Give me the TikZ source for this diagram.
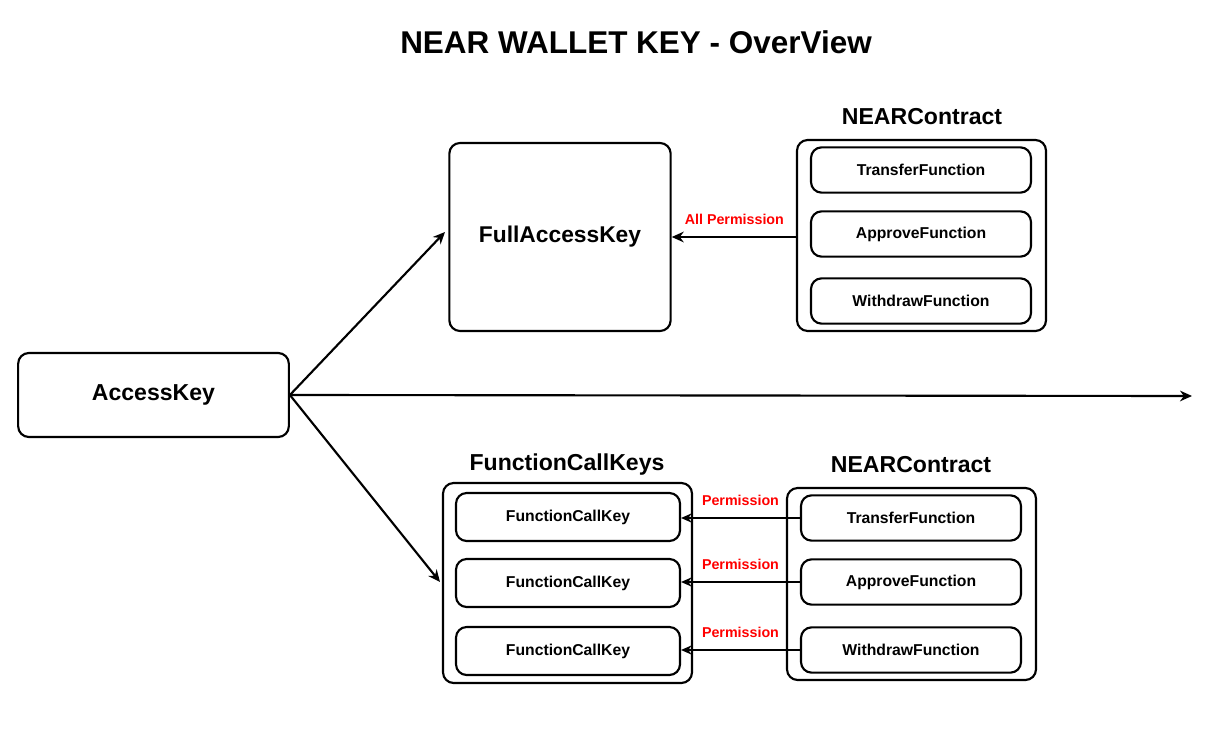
\documentclass[tikz,border=0pt]{standalone}
\usepackage{fontspec}
\setmainfont{Liberation Sans}
\usetikzlibrary{arrows.meta}
\tikzset{
  box/.style={draw, line width=1.6pt, rounded corners=8pt, inner sep=0pt, font=\bfseries},
  func/.style={box, minimum width=165pt, minimum height=34pt, font=\bfseries\fontsize{11.8}{14}\selectfont},
  lbl/.style={font=\bfseries\fontsize{17.3}{20}\selectfont},
  perm/.style={text=red, font=\bfseries\fontsize{10.7}{12}\selectfont},
  link/.style={line width=1.6pt, -{Stealth[length=9pt,width=8pt]}},
  thin link/.style={line width=1.2pt, -{Stealth[length=8pt,width=7pt]}}
}
\begin{document}
\begin{tikzpicture}[x=0.75pt,y=0.75pt,yscale=-1,xscale=1]
    \useasboundingbox (0,0) rectangle (1228,734);

    \node [font=\bfseries\fontsize{23.6}{28}\selectfont] (title) at (636,42) {NEAR WALLET KEY - OverView};

    \node [box, minimum width=203pt, minimum height=63pt, font=\bfseries\fontsize{17.3}{20}\selectfont] (access) at (153.5,395) {AccessKey};
    \node [box, minimum width=166pt, minimum height=141pt, font=\bfseries\fontsize{17.1}{20}\selectfont] (full) at (560,237) {FullAccessKey};

    % top contract
    \node [lbl] (contractA) at (922,117) {NEARContract};
    \draw [box] (797,140) rectangle (1046,331);
    \coordinate (contractAw) at (797,237);
    \node [func] (transferA) at (921,170) {TransferFunction};
    \node [func] (approveA) at (921,234) {ApproveFunction};
    \node [func] (withdrawA) at (921,301) {WithdrawFunction};

    % function call keys
    \node [lbl] (keys) at (567,465) {FunctionCallKeys};
    \draw [box] (443,483) rectangle (692,683);
    \node [func, minimum width=168pt, minimum height=36pt] (keyA) at (568,517) {FunctionCallKey};
    \node [func, minimum width=168pt, minimum height=36pt] (keyB) at (568,583) {FunctionCallKey};
    \node [func, minimum width=168pt, minimum height=36pt] (keyC) at (568,651) {FunctionCallKey};

    % bottom contract
    \node [lbl] (contractB) at (911,465) {NEARContract};
    \draw [box] (787,488) rectangle (1036,680);
    \node [func] (transferB) at (911,518) {TransferFunction};
    \node [func] (approveB) at (911,582) {ApproveFunction};
    \node [func] (withdrawB) at (911,650) {WithdrawFunction};

    \coordinate (upper) at (445,232);
    \coordinate (lower) at (440,582);
    \coordinate (far) at (1192,396);

    \draw [link] (access.east) -- (upper);
    \draw [link] (access.east) -- (lower);
    \draw [link] (access.east) -- (far);

    \draw [link] (contractAw) -- (full.east |- contractAw) node [perm, midway, above=5pt] {All Permission};
    \draw [thin link] (transferB.west) -- (keyA.east |- transferB.west) node [perm, midway, above=5pt] {Permission};
    \draw [thin link] (approveB.west) -- (keyB.east |- approveB.west) node [perm, midway, above=5pt] {Permission};
    \draw [thin link] (withdrawB.west) -- (keyC.east |- withdrawB.west) node [perm, midway, above=5pt] {Permission};
\end{tikzpicture}
\end{document}
